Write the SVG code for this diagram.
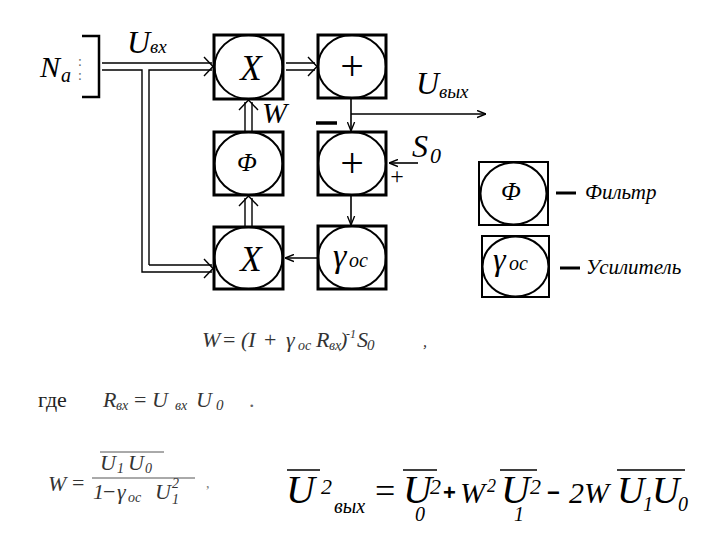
<svg xmlns="http://www.w3.org/2000/svg" width="720" height="540" viewBox="0 0 720 540" font-family="Liberation Serif, Times New Roman, serif">
<defs>
<marker id="ah" viewBox="0 0 10 10" refX="10" refY="5" markerWidth="9" markerHeight="9" markerUnits="userSpaceOnUse" orient="auto">
<path d="M0,1 L10,5 L0,9" fill="none" stroke="#000" stroke-width="1.5"/>
</marker>
</defs>
<style>
.box{fill:#fff;stroke:#000;stroke-width:3}
.lbox{fill:#fff;stroke:#000;stroke-width:2}
.circ{fill:none;stroke:#000;stroke-width:2}
.dl{fill:none;stroke:#000;stroke-width:1.4}
.sl{fill:none;stroke:#000;stroke-width:1.6}
</style>
<rect width="720" height="540" fill="#fff"/>

<g id="input">
<path d="M82,36 H99 V97 H82" fill="none" stroke="#000" stroke-width="2.5"/>
<text x="40" y="77" font-family="Liberation Serif, serif" font-style="italic" font-size="30">N</text>
<text x="61" y="82" font-family="Liberation Serif, serif" font-style="italic" font-size="20">a</text>
<text x="78" y="66" fill="#666" font-family="Liberation Serif, serif" font-size="14">:</text>
<text x="78" y="80" fill="#666" font-family="Liberation Serif, serif" font-size="14">:</text>
<text x="127" y="53" font-family="Liberation Serif, serif" font-style="italic" font-size="32">U</text>
<text x="150" y="53" font-family="Liberation Serif, serif" font-style="italic" font-size="19">вх</text>
</g>

<g id="connectors">
<path class="dl" d="M102,63 H212 M102,70 H142 V272 H212 M149,265 V70 H212 M149,265 H212"/>
<path class="dl" d="M204,57 L213,66.5 L204,76"/>
<path class="dl" d="M204,259 L213,268.5 L204,278"/>
<path class="dl" d="M286,63 H315 M286,70 H315"/>
<path class="dl" d="M308,57 L317,66.5 L308,76"/>
<path class="dl" d="M245,227 V198 M252,227 V198"/>
<path class="dl" d="M239,206 L248.5,196 L258,206"/>
<path class="dl" d="M245,132 V102 M252,132 V102"/>
<path class="dl" d="M239,110 L248.5,100 L258,110"/>
<path class="sl" d="M351,98 V131" marker-end="url(#ah)"/>
<path class="sl" d="M351,114 H486" marker-end="url(#ah)"/>
<path class="sl" d="M418,163 H389" marker-end="url(#ah)"/>
<path class="sl" d="M351,195 V225" marker-end="url(#ah)"/>
<path class="sl" d="M318,258 H285" marker-end="url(#ah)"/>
<path d="M316,123 H337" stroke="#000" stroke-width="3.5"/>
</g>

<g id="labels">
<text x="262" y="123" font-family="Liberation Serif, serif" font-style="italic" font-size="30">W</text>
<text x="416" y="94" font-family="Liberation Serif, serif" font-style="italic" font-size="32">U</text>
<text x="439" y="98" font-family="Liberation Serif, serif" font-style="italic" font-size="19">вых</text>
<text x="412" y="157" font-family="Liberation Serif, serif" font-style="italic" font-size="32">S</text>
<text x="430" y="163" font-family="Liberation Serif, serif" font-style="italic" font-size="22">0</text>
<text x="397" y="184" text-anchor="middle" font-family="Liberation Serif, serif" font-size="24">+</text>
</g>

<g id="mulTop">
<rect class="box" x="214" y="35" width="69" height="64"/>
<ellipse class="circ" cx="248.5" cy="67" rx="34" ry="32"/>
<text x="251" y="80" text-anchor="middle" font-family="Liberation Serif, serif" font-style="italic" font-size="35">X</text>
</g>
<g id="sumTop">
<rect class="box" x="318" y="35" width="68" height="63"/>
<ellipse class="circ" cx="352" cy="66.5" rx="34" ry="31.5"/>
<text x="352" y="80" text-anchor="middle" font-family="Liberation Serif, serif" font-size="42">+</text>
</g>
<g id="filter">
<rect class="box" x="214" y="132" width="69" height="63"/>
<ellipse class="circ" cx="248.5" cy="163.5" rx="34" ry="31.5"/>
<text x="247" y="171" text-anchor="middle" font-family="Liberation Serif, serif" font-style="italic" font-size="26">Φ</text>
</g>
<g id="sumMid">
<rect class="box" x="318" y="132" width="68" height="63"/>
<ellipse class="circ" cx="352" cy="163.5" rx="34" ry="31.5"/>
<text x="352" y="177" text-anchor="middle" font-family="Liberation Serif, serif" font-size="42">+</text>
</g>
<g id="mulBot">
<rect class="box" x="214" y="227" width="69" height="62"/>
<ellipse class="circ" cx="248.5" cy="258" rx="34" ry="31"/>
<text x="251" y="271" text-anchor="middle" font-family="Liberation Serif, serif" font-style="italic" font-size="35">X</text>
</g>
<g id="amp">
<rect class="box" x="318" y="226" width="68" height="63"/>
<ellipse class="circ" cx="352" cy="257.5" rx="34" ry="31.5"/>
<text x="333" y="267" font-family="Liberation Serif, serif" font-style="italic" font-size="34">γ</text>
<text x="349" y="267" font-family="Liberation Serif, serif" font-style="italic" font-size="20">oc</text>
</g>

<g id="legendFilter">
<rect class="lbox" x="479" y="162" width="69" height="63"/>
<ellipse class="circ" cx="513.5" cy="193.5" rx="33" ry="31"/>
<text x="511" y="200" text-anchor="middle" font-family="Liberation Serif, serif" font-style="italic" font-size="26">Φ</text>
<path d="M556,193 H576" stroke="#000" stroke-width="3"/>
<text x="585" y="199" font-family="Liberation Serif, serif" font-style="italic" font-size="21">Фильтр</text>
</g>
<g id="legendAmp">
<rect class="lbox" x="482" y="236" width="67" height="61"/>
<ellipse class="circ" cx="515.5" cy="266.5" rx="33" ry="30"/>
<text x="493" y="270" font-family="Liberation Serif, serif" font-style="italic" font-size="32">γ</text>
<text x="509" y="270" font-family="Liberation Serif, serif" font-style="italic" font-size="20">oc</text>
<path d="M560,268 H580" stroke="#000" stroke-width="3"/>
<text x="586" y="274" font-family="Liberation Serif, serif" font-style="italic" font-size="21">Усилитель</text>
</g>

<g id="formula1" fill="#333">
<text x="202" y="347" font-family="Liberation Serif, serif" font-style="italic" font-size="22">W</text>
<text x="223" y="347" font-family="Liberation Serif, serif" font-size="22">=</text>
<text x="241" y="347" font-family="Liberation Serif, serif" font-style="italic" font-size="22">(I</text>
<text x="264" y="347" font-family="Liberation Serif, serif" font-size="22">+</text>
<text x="286" y="347" font-family="Liberation Serif, serif" font-style="italic" font-size="22">γ</text>
<text x="298" y="350" font-family="Liberation Serif, serif" font-style="italic" font-size="14">oc</text>
<text x="316" y="347" font-family="Liberation Serif, serif" font-style="italic" font-size="22">R</text>
<text x="329" y="350" font-family="Liberation Serif, serif" font-style="italic" font-size="14">вх</text>
<text x="340" y="347" font-family="Liberation Serif, serif" font-style="italic" font-size="22">)</text>
<text x="346" y="338" font-family="Liberation Serif, serif" font-style="italic" font-size="12">-1</text>
<text x="357" y="347" font-family="Liberation Serif, serif" font-style="italic" font-size="22">S</text>
<text x="367" y="350" font-family="Liberation Serif, serif" font-style="italic" font-size="15">0</text>
<text x="423" y="347" font-family="Liberation Serif, serif" font-style="italic" font-size="16">,</text>
</g>

<g id="formula2" fill="#333">
<text x="38" y="407" fill="#222" font-family="Liberation Serif, serif" font-size="22">где</text>
<text x="103" y="407" font-family="Liberation Serif, serif" font-style="italic" font-size="22">R</text>
<text x="116" y="410" font-family="Liberation Serif, serif" font-style="italic" font-size="14">вх</text>
<text x="134" y="407" font-family="Liberation Serif, serif" font-size="22">=</text>
<text x="152" y="407" font-family="Liberation Serif, serif" font-style="italic" font-size="22">U</text>
<text x="175" y="410" font-family="Liberation Serif, serif" font-style="italic" font-size="14">вх</text>
<text x="196" y="407" font-family="Liberation Serif, serif" font-style="italic" font-size="22">U</text>
<text x="216" y="410" font-family="Liberation Serif, serif" font-style="italic" font-size="15">0</text>
<text x="249" y="407" fill="#666" font-family="Liberation Serif, serif" font-size="22">.</text>
</g>

<g id="formula3" fill="#333">
<text x="48" y="491" font-family="Liberation Serif, serif" font-style="italic" font-size="22">W</text>
<text x="72" y="490" font-family="Liberation Serif, serif" font-size="22">=</text>
<path d="M92,478 H195" stroke="#555" stroke-width="1"/>
<path d="M100,452 H164" stroke="#555" stroke-width="1"/>
<text x="100" y="470" font-family="Liberation Serif, serif" font-style="italic" font-size="22">U</text>
<text x="117" y="473" font-family="Liberation Serif, serif" font-style="italic" font-size="14">1</text>
<text x="128" y="470" font-family="Liberation Serif, serif" font-style="italic" font-size="22">U</text>
<text x="145" y="473" font-family="Liberation Serif, serif" font-style="italic" font-size="14">0</text>
<text x="93" y="499" font-family="Liberation Serif, serif" font-style="italic" font-size="22">1</text>
<text x="103" y="499" font-family="Liberation Serif, serif" font-size="22">−</text>
<text x="117" y="499" font-family="Liberation Serif, serif" font-style="italic" font-size="22">γ</text>
<text x="128" y="502" font-family="Liberation Serif, serif" font-style="italic" font-size="14">oc</text>
<text x="155" y="499" font-family="Liberation Serif, serif" font-style="italic" font-size="22">U</text>
<text x="172" y="504" font-family="Liberation Serif, serif" font-style="italic" font-size="14">1</text>
<text x="172" y="488" font-family="Liberation Serif, serif" font-style="italic" font-size="14">2</text>
<text x="206" y="488" fill="#777" font-family="Liberation Serif, serif" font-size="14">,</text>
</g>

<g id="formula4">
<path d="M287,470 H320 M403,470 H437 M500,470 H537 M617,470 H685" stroke="#000" stroke-width="1.5"/>
<text x="286" y="503" font-family="Liberation Serif, serif" font-style="italic" font-size="40">U</text>
<text x="321" y="494" font-family="Liberation Serif, serif" font-style="italic" font-size="22">2</text>
<text x="334" y="513" font-family="Liberation Serif, serif" font-style="italic" font-size="20">вых</text>
<text x="375" y="503" font-family="Liberation Serif, serif" font-size="36">=</text>
<text x="403" y="503" font-family="Liberation Serif, serif" font-style="italic" font-size="40">U</text>
<text x="430" y="494" font-family="Liberation Serif, serif" font-style="italic" font-size="22">2</text>
<text x="415" y="521" font-family="Liberation Serif, serif" font-style="italic" font-size="20">0</text>
<text x="443" y="500" font-family="Liberation Sans, sans-serif" font-weight="bold" font-size="22">+</text>
<text x="460" y="503" font-family="Liberation Serif, serif" font-style="italic" font-size="30">W</text>
<text x="487" y="492" font-family="Liberation Serif, serif" font-style="italic" font-size="18">2</text>
<text x="501" y="503" font-family="Liberation Serif, serif" font-style="italic" font-size="40">U</text>
<text x="530" y="494" font-family="Liberation Serif, serif" font-style="italic" font-size="22">2</text>
<text x="514" y="521" font-family="Liberation Serif, serif" font-style="italic" font-size="20">1</text>
<text x="547" y="500" font-family="Liberation Sans, sans-serif" font-weight="bold" font-size="22">−</text>
<text x="569" y="503" font-family="Liberation Serif, serif" font-style="italic" font-size="30">2W</text>
<text x="617" y="503" font-family="Liberation Serif, serif" font-style="italic" font-size="38">U</text>
<text x="643" y="511" font-family="Liberation Serif, serif" font-style="italic" font-size="20">1</text>
<text x="652" y="503" font-family="Liberation Serif, serif" font-style="italic" font-size="38">U</text>
<text x="678" y="511" font-family="Liberation Serif, serif" font-style="italic" font-size="20">0</text>
</g>
</svg>
